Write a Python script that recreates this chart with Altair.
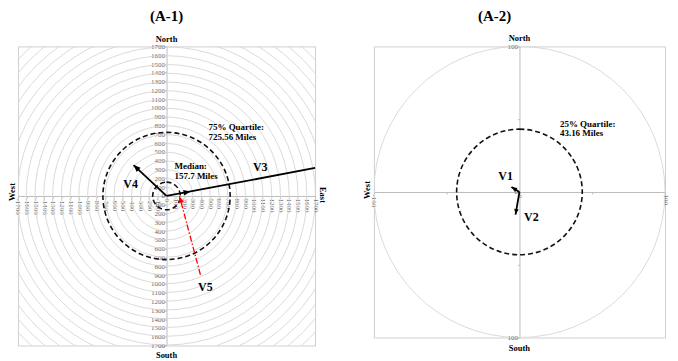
import math
import altair as alt
import pandas as pd

# ---------------- data ----------------
# Panel A-1 (miles)
a1_names = ["V3", "V4", "V5"]
a1_x0 = [0, 0, 388]
a1_y0 = [0, 0, -896]
a1_x1 = [1700, -377, 148]
a1_y1 = [318, 351, 0]
a1_head_x = [275, -377, 148]
a1_head_y = [51, 351, 0]
a1_rings = [100, 200, 300, 400, 500, 600, 700, 800, 900, 1000, 1100, 1200,
            1300, 1400, 1500, 1600, 1700, 1800, 1900, 2000, 2100, 2200, 2300, 2400]
a1_quartiles = [725.56, 157.7]      # 75% quartile, median
a1_ticks = list(range(-1700, 1701, 100))

# Panel A-2
a2_names = ["V1", "V2"]
a2_x0 = [0, 0]
a2_y0 = [0, 0]
a2_x1 = [-5.5, -2.7]
a2_y1 = [3.4, -15.5]
a2_rings = [100]
a2_quartiles = [43.16]              # 25% quartile
a2_ticks = [-100, -50, 0, 50, 100]

FONT = "Liberation Serif"
W1, H1 = 298, 300
W2, H2 = 292, 292
HEAD = "M0,0L0.9,2.2L-0.9,2.2Z"

dummy = pd.DataFrame({"k": [0]})


def make_axis(orient, values, off, expr, angle):
    return alt.Axis(orient=orient, offset=off, values=values, labelExpr=expr,
                    labelAngle=angle, labelFontSize=7, labelFont=FONT,
                    labelColor="#666666", labelPadding=0, tickSize=2,
                    tickColor="#bdbdbd", domainColor="#bdbdbd", domainWidth=1,
                    grid=False, title=None, labelOverlap=False,
                    labelFlush=False, labelBound=False)


def build_panel(names, x0, y0, x1, y1, hx, hy, rings, quarts, ticks, lim,
                W, H, rpx, head_size, xexpr, yexpr, texts):
    xs = alt.Scale(domain=[-lim, lim], nice=False, zero=False)
    ys = alt.Scale(domain=[-lim, lim], nice=False, zero=False)
    rs = alt.Scale(type="linear", domain=[0, lim], range=[0, rpx], zero=True)
    ax_x = make_axis("bottom", ticks, -H / 2, xexpr, 90)
    ax_y = make_axis("left", ticks, -W / 2, yexpr, 0)

    def X(f):
        return alt.X(f, scale=xs, axis=ax_x, title=None)

    def Y(f):
        return alt.Y(f, scale=ys, axis=ax_y, title=None)

    def Xd(v):
        return alt.X(datum=v, type="quantitative", scale=xs, axis=ax_x)

    def Yd(v):
        return alt.Y(datum=v, type="quantitative", scale=ys, axis=ax_y)

    vec = pd.DataFrame({"name": names, "x0": x0, "y0": y0, "x1": x1, "y1": y1})
    heads = pd.DataFrame({"name": names, "hx": hx, "hy": hy,
                          "dx": [b - a for a, b in zip(x0, x1)],
                          "dy": [b - a for a, b in zip(y0, y1)]})

    ring_layer = alt.Chart(pd.DataFrame({"r": rings})).mark_arc(
        theta=0, theta2=2 * math.pi, filled=False, stroke="#d6d6d6",
        strokeWidth=0.9, clip=True
    ).encode(radius=alt.Radius("r:Q", scale=rs, stack=None))

    quart_layer = alt.Chart(pd.DataFrame({"r": quarts})).mark_arc(
        theta=0, theta2=2 * math.pi, filled=False, stroke="#111111",
        strokeWidth=1.6, strokeDash=[5, 3], clip=True
    ).encode(radius=alt.Radius("r:Q", scale=rs, stack=None))

    black = alt.Chart(vec).transform_filter(alt.datum.name != "V5").mark_rule(
        color="black", strokeWidth=1.8
    ).encode(x=X("x0:Q"), y=Y("y0:Q"), x2="x1:Q", y2="y1:Q")

    layers = [ring_layer, quart_layer, black]

    if "V5" in names:
        red = alt.Chart(vec).transform_filter(alt.datum.name == "V5").mark_rule(
            color="#ff0000", strokeWidth=1.3, strokeDash=[6, 2, 1.5, 2]
        ).encode(x=X("x0:Q"), y=Y("y0:Q"), x2="x1:Q", y2="y1:Q")
        layers.append(red)

    head_layer = alt.Chart(heads).transform_calculate(
        ang="(atan2(datum.dx, datum.dy) * 180 / PI + 360) % 360"
    ).mark_point(shape=HEAD, filled=True, size=head_size, opacity=1).encode(
        x=X("hx:Q"), y=Y("hy:Q"),
        angle=alt.Angle("ang:Q", scale=None),
        color=alt.condition(alt.datum.name == "V5", alt.value("#ff0000"),
                            alt.value("black")),
    )
    layers.append(head_layer)

    for t in texts:
        kind, text, xv, yv, size, align, angle = t
        if kind == "data":
            enc = dict(x=Xd(xv), y=Yd(yv))
        else:
            enc = dict(x=alt.value(xv), y=alt.value(yv))
        layers.append(
            alt.Chart(dummy).mark_text(
                text=text, font=FONT, fontSize=size, fontWeight="bold",
                color="black", align=align, baseline="middle", angle=angle
            ).encode(**enc)
        )

    return alt.layer(*layers).properties(width=W, height=H)


texts1 = [
    ("px", "(A-1)", W1 / 2, -30, 15, "center", 0),
    ("px", "North", W1 / 2, -7, 8.5, "center", 0),
    ("px", "South", W1 / 2, H1 + 10, 8.5, "center", 0),
    ("px", "West", -5.5, H1 / 2 - 4, 8.5, "center", 270),
    ("px", "East", W1 + 8, H1 / 2 - 1, 8.5, "center", 90),
    ("data", "75% Quartile:", 480, 782, 9, "left", 0),
    ("data", "725.56 Miles", 480, 669, 9, "left", 0),
    ("data", "Median:", 91, 340, 9, "left", 0),
    ("data", "157.7 Miles", 91, 227, 9, "left", 0),
    ("data", "V3", 1073, 329, 12, "center", 0),
    ("data", "V4", -411, 136, 12, "center", 0),
    ("data", "V5", 445, -1032, 12, "center", 0),
]

texts2 = [
    ("px", "(A-2)", W2 / 2 - 25, -30, 15, "center", 0),
    ("px", "North", W2 / 2, -8, 8.5, "center", 0),
    ("px", "South", W2 / 2, H2 + 11, 8.5, "center", 0),
    ("px", "West", -7, H2 / 2 - 2, 8.5, "center", 270),
    ("data", "25% Quartile:", 27.8, 46.6, 9, "left", 0),
    ("data", "43.16 Miles", 27.8, 40.5, 9, "left", 0),
    ("data", "V1", -9.5, 10.8, 12, "center", 0),
    ("data", "V2", 8.2, -16.9, 12, "center", 0),
]

p1 = build_panel(a1_names, a1_x0, a1_y0, a1_x1, a1_y1, a1_head_x, a1_head_y,
                 a1_rings, a1_quartiles, a1_ticks, 1700, W1, H1, 149.5, 40,
                 "'' + datum.value", "'' + abs(datum.value)", texts1)
p2 = build_panel(a2_names, a2_x0, a2_y0, a2_x1, a2_y1, a2_x1, a2_y1,
                 a2_rings, a2_quartiles, a2_ticks, 100, W2, H2, 146, 26,
                 "abs(datum.value) == 50 ? '' : '' + datum.value",
                 "abs(datum.value) == 50 ? '' : '' + abs(datum.value)", texts2)

chart = alt.hconcat(p1, p2, spacing=59, bounds="flush").properties(
    padding=0
).configure_view(stroke="#d0d0d0", strokeWidth=1)

chart.save("out.html", embed_options={"renderer": "svg", "actions": False})
